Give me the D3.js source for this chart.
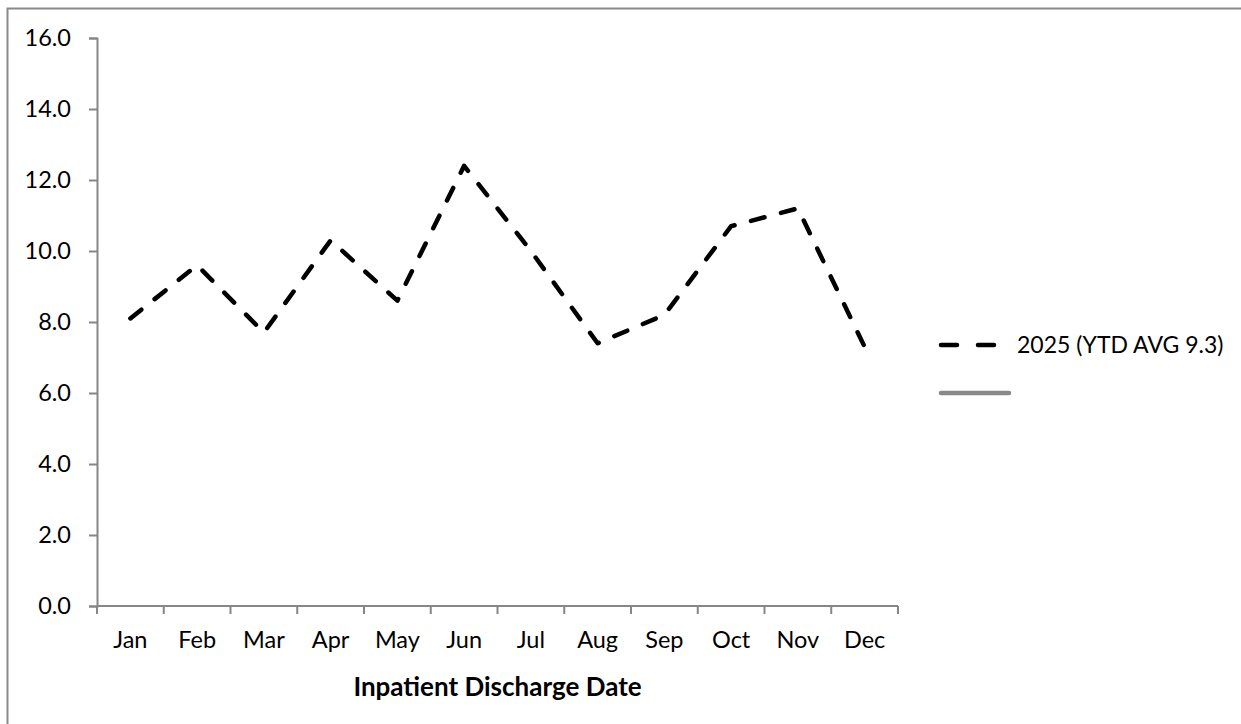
<!DOCTYPE html>
<html>
<head>
<meta charset="utf-8">
<script src="https://cdn.jsdelivr.net/npm/d3@7"></script>
<style>
  html, body { margin: 0; padding: 0; background: #fff; }
  svg { display: block; }
  text { font-family: Lato, "Open Sans", sans-serif; fill: #000; }
</style>
</head>
<body>
<script>
const categories = ["Jan","Feb","Mar","Apr","May","Jun","Jul","Aug","Sep","Oct","Nov","Dec"];
const values2025 = [8.1, 9.6, 7.7, 10.3, 8.6, 12.4, 10.0, 7.4, 8.2, 10.7, 11.2, 7.3];
const yTicks = [0, 2, 4, 6, 8, 10, 12, 14, 16];
const seriesLabel = "2025 (YTD AVG 9.3)";
const xTitle = "Inpatient Discharge Date";

const W = 1241, H = 724;
const svg = d3.select("body").append("svg").attr("width", W).attr("height", H);

// outer border
svg.append("rect").attr("x", 7.5).attr("y", 8.5).attr("width", 1240).attr("height", 730)
  .attr("fill", "none").attr("stroke", "#898989").attr("stroke-width", 2);

const plotLeft = 97, plotRight = 898, plotTop = 38, plotBottom = 606;
const x = d3.scaleBand().domain(categories).range([plotLeft, plotRight]).paddingInner(0).paddingOuter(0);
const y = d3.scaleLinear().domain([0, 16]).range([plotBottom, plotTop]);

// Y axis
const yAxis = svg.append("g").attr("transform", `translate(${plotLeft},0)`)
  .call(d3.axisLeft(y).tickValues(yTicks).tickFormat(d3.format(".1f")).tickSize(8).tickPadding(18));
yAxis.select(".domain").attr("stroke", "#868686").attr("stroke-width", 2);
yAxis.selectAll(".tick line").attr("stroke", "#868686").attr("stroke-width", 2);
yAxis.selectAll(".tick text").attr("font-size", 23.5).attr("font-family", "Lato").attr("fill", "#000");

// X axis: ticks at category boundaries
const xAxisG = svg.append("g").attr("transform", `translate(0,${plotBottom})`);
xAxisG.append("line").attr("x1", plotLeft).attr("x2", plotRight).attr("y1", 0).attr("y2", 0)
  .attr("stroke", "#868686").attr("stroke-width", 2);
const boundaries = categories.map(c => x(c)).concat([x(categories[categories.length-1]) + x.bandwidth()]);
xAxisG.selectAll("line.tk").data(boundaries).enter().append("line").attr("class","tk")
  .attr("x1", d => d).attr("x2", d => d).attr("y1", 0).attr("y2", 8)
  .attr("stroke", "#868686").attr("stroke-width", 2);
xAxisG.selectAll("text.lbl").data(categories).enter().append("text").attr("class","lbl")
  .attr("x", d => x(d) + x.bandwidth()/2).attr("y", 42)
  .attr("text-anchor", "middle").attr("font-size", 23.5).text(d => d);

// X axis title
svg.append("text").attr("x", (plotLeft + plotRight)/2).attr("y", 696)
  .attr("text-anchor", "middle").attr("font-size", 26).attr("font-weight", "bold").text(xTitle);

// line
const line = d3.line().x((d, i) => x(categories[i]) + x.bandwidth()/2).y(d => y(d));
svg.append("path").datum(values2025).attr("d", line)
  .attr("fill", "none").attr("stroke", "#000").attr("stroke-width", 4.5)
  .attr("stroke-dasharray", "14,17").attr("stroke-linecap", "round").attr("stroke-linejoin", "round");

// legend
const lg = svg.append("g");
lg.append("line").attr("x1", 941).attr("x2", 1009).attr("y1", 345).attr("y2", 345)
  .attr("stroke", "#000").attr("stroke-width", 4.5).attr("stroke-dasharray", "16,21").attr("stroke-linecap", "round");
lg.append("text").attr("x", 1017).attr("y", 353).attr("font-size", 23).text(seriesLabel);
lg.append("line").attr("x1", 941).attr("x2", 1009).attr("y1", 393).attr("y2", 393)
  .attr("stroke", "#898989").attr("stroke-width", 4.5).attr("stroke-linecap", "round");
</script>
</body>
</html>
